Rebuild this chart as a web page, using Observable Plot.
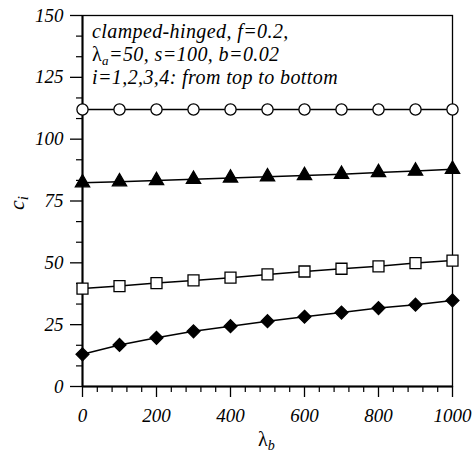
<!DOCTYPE html>
<html>
<head>
<meta charset="utf-8">
<script src="https://cdn.jsdelivr.net/npm/d3@7"></script>
<script src="https://cdn.jsdelivr.net/npm/@observablehq/plot@0.6"></script>
<style>
  html, body { margin: 0; padding: 0; background: #fff; }
</style>
</head>
<body>
<div id="chart"></div>
<script>
const lambdaB = [0, 100, 200, 300, 400, 500, 600, 700, 800, 900, 1000];
const c1 = [112, 112, 112, 112, 112, 112, 112, 112, 112, 112, 112];
const c2 = [82.4, 82.8, 83.3, 83.8, 84.3, 84.8, 85.3, 85.8, 86.5, 87.1, 87.8];
const c3 = [39.6, 40.6, 41.8, 42.9, 44.0, 45.3, 46.5, 47.6, 48.6, 49.9, 50.9];
const c4 = [13.0, 16.8, 19.7, 22.3, 24.4, 26.4, 28.2, 29.9, 31.7, 33.1, 34.8];
const xTicks = [0, 200, 400, 600, 800, 1000];
const yTicks = [0, 25, 50, 75, 100, 125, 150];
const annotation = ["clamped-hinged, f=0.2,", "λ|a|=50, s=100, b=0.02", "i=1,2,3,4: from top to bottom"];

const series = [
  {name: "1", values: c1, symbol: "circle", fill: "white", r: 5.6},
  {name: "2", values: c2, symbol: "triangle", fill: "black", r: 5.3},
  {name: "3", values: c3, symbol: "square", fill: "white", r: 6.2},
  {name: "4", values: c4, symbol: "diamond2", fill: "black", r: 5.8}
];
const rows = series.map(s => lambdaB.map((x, i) => ({x, y: s.values[i], s: s.name})));

const font = "'Liberation Serif', 'Times New Roman', serif";
const xMinor = d3.range(0, 1001, 40).filter(v => v % 200 !== 0);
const yMinor = d3.range(0, 151, 25 / 3).filter((v, i) => i % 3 !== 0);

const marks = [
  Plot.frame({stroke: "black", strokeWidth: 1.3}),
  Plot.axisX({ticks: xTicks, tickSize: 11, tickPadding: 11, tickFormat: d => String(d),
    fontSize: 19, fontStyle: "italic", fontFamily: font, label: null, strokeWidth: 1.3}),
  Plot.axisX({ticks: xMinor, tickSize: 6, text: null, label: null, strokeWidth: 1.2}),
  Plot.axisY({ticks: yTicks, tickSize: 12, tickPadding: 7, tickFormat: d => String(d),
    fontSize: 19, fontStyle: "italic", fontFamily: font, label: null, strokeWidth: 1.3}),
  Plot.axisY({ticks: yMinor, tickSize: 6, text: null, label: null, strokeWidth: 1.2}),
  Plot.ruleX([0], {stroke: "black", strokeWidth: 2}),
  Plot.ruleY([0], {stroke: "black", strokeWidth: 2})
];
series.forEach((s, k) => {
  marks.push(Plot.line(rows[k], {x: "x", y: "y", stroke: "black", strokeWidth: 1.5}));
  marks.push(Plot.dot(rows[k], {x: "x", y: "y", symbol: () => s.symbol, r: s.r,
    fill: s.fill, stroke: "black", strokeWidth: 1.3}));
});

const svg = Plot.plot({
  width: 473,
  height: 454,
  marginLeft: 82,
  marginRight: 21,
  marginTop: 15,
  marginBottom: 68,
  x: {domain: [0, 1000]},
  y: {domain: [0, 150]},
  style: {background: "white", color: "black", fontFamily: font, overflow: "visible"},
  marks
});

const sel = d3.select(svg);
// annotation
annotation.forEach((line, i) => {
  const t = sel.append("text")
    .attr("x", 92).attr("y", 38 + i * 23)
    .attr("text-anchor", "start")
    .attr("font-family", font).attr("font-size", 20).attr("font-style", "italic")
    .attr("letter-spacing", 0.4)
    .attr("fill", "black");
  const parts = line.split("|");
  if (parts.length === 3) {
    t.append("tspan").attr("font-style", "normal").text(parts[0]);
    t.append("tspan").attr("font-size", 13).attr("dy", 4).text(parts[1]);
    t.append("tspan").attr("dy", -4).text(parts[2]);
  } else {
    t.text(line);
  }
});
// x label
const xl = sel.append("text").attr("x", 258).attr("y", 446).attr("text-anchor", "start")
  .attr("font-family", font).attr("font-size", 20).attr("fill", "black");
xl.append("tspan").text("λ");
xl.append("tspan").attr("font-size", 14).attr("font-style", "italic").attr("dy", 4).text("b");
// y label
const yl = sel.append("text").attr("transform", "translate(24,210) rotate(-90)").attr("text-anchor", "start")
  .attr("font-family", font).attr("font-size", 22).attr("font-style", "italic").attr("fill", "black");
yl.append("tspan").text("c");
yl.append("tspan").attr("font-size", 15).attr("dy", 4).text("i");

document.getElementById("chart").appendChild(svg);
</script>
</body>
</html>
